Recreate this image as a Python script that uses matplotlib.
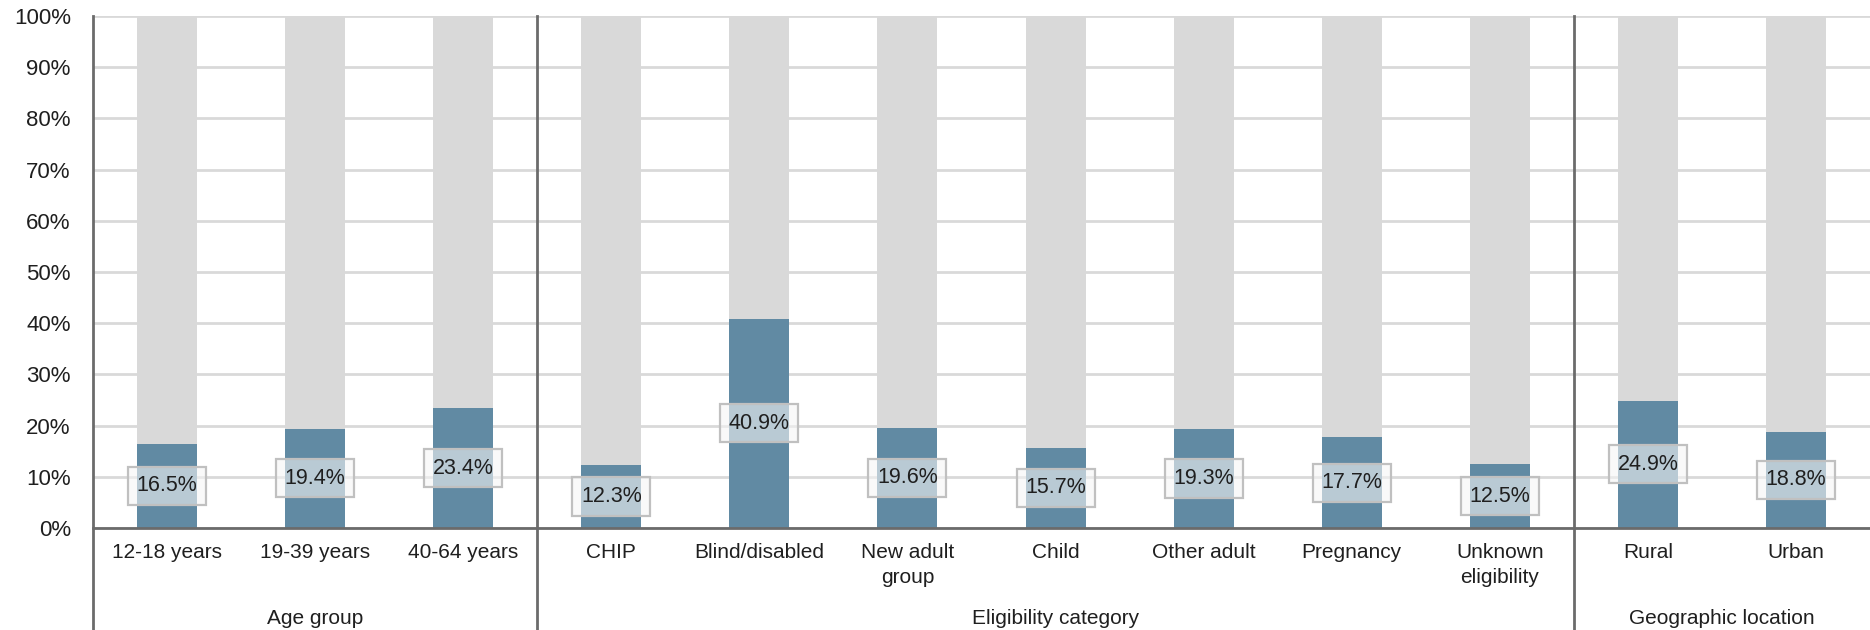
import matplotlib
matplotlib.use('Agg')
import matplotlib.pyplot as plt
import numpy as np

plt.rcParams['font.family'] = ['Liberation Sans', 'DejaVu Sans']

# categories, grouped left to right
categories = ['12-18 years', '19-39 years', '40-64 years',
              'CHIP', 'Blind/disabled', 'New adult\ngroup', 'Child',
              'Other adult', 'Pregnancy', 'Unknown\neligibility',
              'Rural', 'Urban']
shares = [16.5, 19.4, 23.4, 12.3, 40.9, 19.6, 15.7, 19.3, 17.7, 12.5, 24.9, 18.8]
groups = ['Age group', 'Eligibility category', 'Geographic location']
group_sizes = [3, 7, 2]

BLUE = '#618aa3'
GRAY = '#d9d9d9'
AXIS = '#6b6b6b'
TXT = '#1f1f1f'

fig = plt.figure(figsize=(18.7, 6.3), dpi=100)
ax = fig.add_axes([93/1870, 102/630, 1 - 93/1870, 512/630])

x = np.arange(len(categories))
vals = np.array(shares)
w = 0.405
ax.bar(x, vals, width=w, color=BLUE, zorder=2)
ax.bar(x, 100 - vals, bottom=vals, width=w, color=GRAY, zorder=2)

for xi, v in zip(x, vals):
    ax.text(xi, v / 2, f'{v:.1f}%', ha='center', va='center', fontsize=15.5, color=TXT, zorder=4,
            bbox=dict(boxstyle='square,pad=0.4', facecolor=(0.96, 0.96, 0.96, 0.6),
                      edgecolor='#c0c0c0', linewidth=1.6))

ax.set_xlim(-0.5, len(categories) - 0.5)
ax.set_ylim(0, 100)
ax.set_yticks(np.arange(0, 101, 10))
ax.set_yticklabels([f'{t}%' for t in range(0, 101, 10)])
ax.set_xticks(x)
ax.set_xticklabels(categories, linespacing=1.35)
ax.tick_params(axis='y', length=0, pad=16, labelsize=16, labelcolor=TXT)
ax.tick_params(axis='x', length=0, pad=11, labelsize=15, labelcolor=TXT)

ax.yaxis.grid(True, color=GRAY, linewidth=2, zorder=0)
ax.set_axisbelow(True)
for s in ['top', 'right', 'left']:
    ax.spines[s].set_visible(False)
ax.spines['bottom'].set_color(AXIS)
ax.spines['bottom'].set_linewidth(2)
ax.spines['bottom'].set_zorder(3)

# group separators running down through the label area
tr = ax.get_xaxis_transform()
edges = np.concatenate([[0], np.cumsum(group_sizes)]) - 0.5
for e in edges[:-1]:
    ax.plot([e, e], [1, -0.3], transform=tr, color=AXIS, lw=2, clip_on=False, zorder=5)

for g, lo, hi in zip(groups, edges[:-1], edges[1:]):
    ax.text((lo + hi) / 2, -91/512, g, transform=tr, ha='center', va='center',
            fontsize=15, color=TXT)

fig.savefig('out.png', dpi=100)
